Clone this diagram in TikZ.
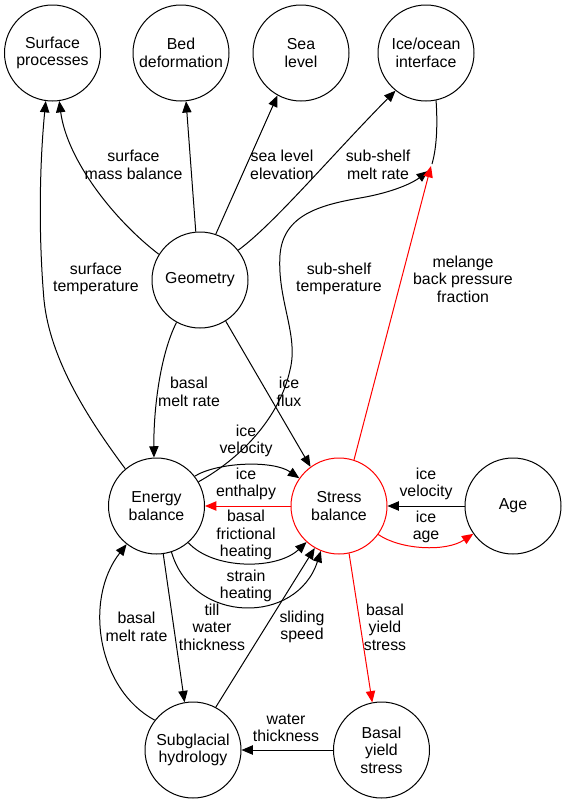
\documentclass[tikz,border=0pt]{standalone}
\usepackage{fontspec}
\setmainfont{Liberation Sans}
\usetikzlibrary{arrows.meta}
\begin{document}
\begin{tikzpicture}[x=0.75pt,y=-0.75pt,
  every node/.style={font=\fontsize{11.9pt}{13.2pt}\selectfont, align=center},
  state/.style={circle,draw,line width=0.75pt,minimum size=72pt,inner sep=0pt},
  lbl/.style={inner sep=0pt},
  conn/.style={line width=0.75pt,-{Triangle[length=8.5pt,width=7pt]}},
  redconn/.style={conn,color=red},
  plain/.style={line width=0.75pt}]
\useasboundingbox (0,0) rectangle (567,804);
% nodes
\node[state] (sp) at (52.5,53) {Surface\\processes};
\node[state] (bed) at (181,53) {Bed\\deformation};
\node[state] (sea) at (301,53) {Sea\\level};
\node[state] (ice) at (426,53) {Ice/ocean\\interface};
\node[state] (geo) at (200,280) {Geometry};
\node[state] (en) at (156.5,506) {Energy\\balance};
\node[state,draw=red] (st) at (339,506) {Stress\\balance};
\node[state] (age) at (513,506) {Age};
\node[state] (sub) at (193,750) {Subglacial\\hydrology};
\node[state] (bys) at (381.5,750) {Basal\\yield\\stress};
\coordinate (J0) at (432,164);
\coordinate (J1) at (428,171);
\coordinate (J2) at (431,166);
% edges
\draw[conn] (geo.148) .. controls (114,220) and (67,160) .. (sp.278);
\draw[conn] (en.130) .. controls (89,420) and (50,360) .. (44,300) .. controls (38,230) and (40,160) .. (sp.262);
\draw[conn] (geo.95) -- (bed.276);
\draw[conn] (geo.71) -- (sea.241);
\draw[conn] (geo.38) .. controls (273,225) and (332,155) .. (ice.231);
\draw[plain] (ice.282) .. controls (438,130) and (436,150) .. (J0);
\draw[conn] (en.30) .. controls (238,460) and (279,420) .. (290,370) .. controls (299,335) and (277,300) .. (280,255) .. controls (283,215) and (320,205) .. (360,198) .. controls (395,192) and (414,182) .. (J1);
\draw[redconn] (st.72) -- (J2);
\draw[conn] (geo.241) .. controls (160,355) and (153.5,410) .. (en.93);
\draw[conn] (geo.302) -- (st.126);
\draw[conn] (en.38) .. controls (218,462) and (273,460) .. (st.145);
\draw[redconn] (st.180) -- (en.0);
\draw[conn] (en.311) .. controls (213,570) and (277,570) .. (st.228);
\draw[conn] (en.288) .. controls (193,625) and (297,625) .. (st.248);
\draw[conn] (sub.62) -- (st.240);
\draw[conn] (en.278) -- (sub.100);
\draw[conn] (sub.142) .. controls (98,690) and (83,600) .. (en.232);
\draw[conn] (age.180) -- (st.0);
\draw[redconn] (st.324) .. controls (401,550) and (446,552) .. (age.215);
\draw[redconn] (st.282) -- (bys.101);
\draw[conn] (bys.180) -- (sub.0);
% labels
\node[lbl] (l1) at (133.5,165) {surface\\mass balance};
\node[lbl] (l2) at (282,165) {sea level\\elevation};
\node[lbl] (l3) at (378,165) {sub-shelf\\melt rate};
\node[lbl] (l4) at (96,279) {surface\\temperature};
\node[lbl] (l5) at (339,279) {sub-shelf\\temperature};
\node[lbl] (l6) at (463,279) {melange\\back pressure\\fraction};
\node[lbl] (l7) at (189,392) {basal\\melt rate};
\node[lbl] (l8) at (289,392) {ice\\flux};
\node[lbl] (l9) at (246,441) {ice\\velocity};
\node[lbl] (l10) at (246,484) {ice\\enthalpy};
\node[lbl] (l11) at (246,535) {basal\\frictional\\heating};
\node[lbl] (l12) at (246,586) {strain\\heating};
\node[lbl] (l13) at (426,484) {ice\\velocity};
\node[lbl] (l14) at (426,527) {ice\\age};
\node[lbl] (l15) at (136.5,627) {basal\\melt rate};
\node[lbl] (l16) at (212,627) {till\\water\\thickness};
\node[lbl] (l17) at (302,627) {sliding\\speed};
\node[lbl] (l18) at (385,627) {basal\\yield\\stress};
\node[lbl] (l19) at (286,728) {water\\thickness};
\end{tikzpicture}
\end{document}
